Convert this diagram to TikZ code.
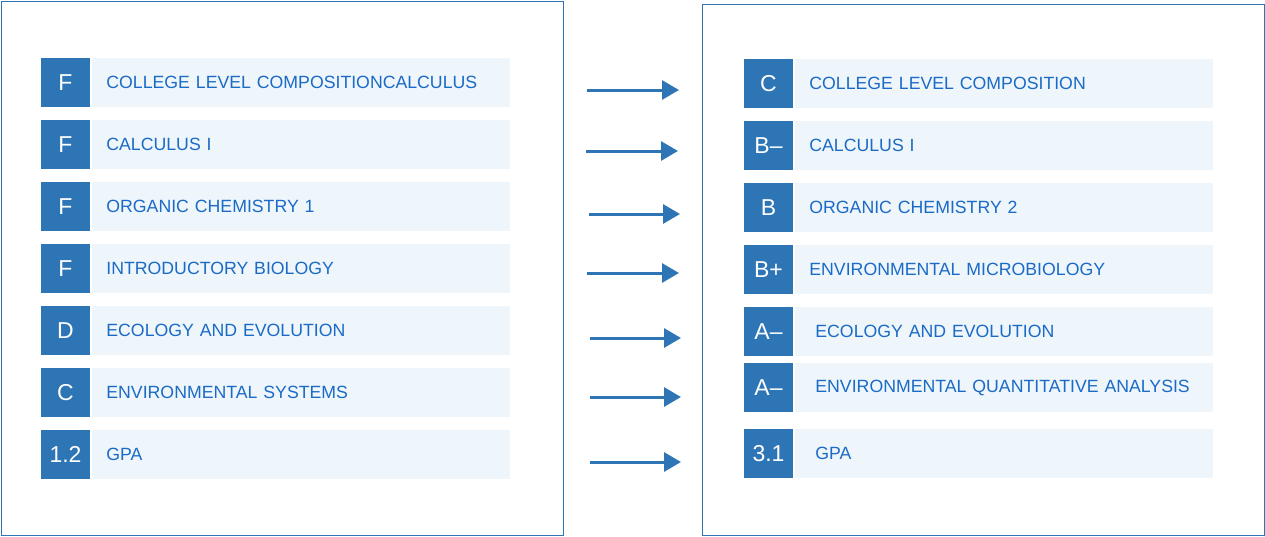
\documentclass[tikz,border=0pt]{standalone}
\usepackage{fontspec}
\setmainfont{Liberation Sans}
\usetikzlibrary{arrows.meta,positioning}
\definecolor{gradeblue}{HTML}{2E75B6}
\definecolor{barblue}{HTML}{EEF6FB}
\definecolor{courseblue}{HTML}{1B6AC6}
\tikzset{
	panel/.style={draw=gradeblue, line width=1pt},
	grade/.style={fill=gradeblue, text=white, minimum width=49pt, minimum height=49pt, inner sep=0pt, font=\fontsize{23}{23}\selectfont},
	course/.style={fill=barblue, text=courseblue, minimum height=49pt, minimum width=418pt, inner ysep=0pt, inner xsep=14pt, text width=390pt, align=left, font=\fontsize{17.7}{20}\selectfont},
	indent/.style={inner xsep=20pt, text width=378pt},
	gain/.style={draw=gradeblue, line width=3pt, -{Triangle[length=17pt,width=19pt]}}
}

\begin{document}
\begin{tikzpicture}[x=1pt, y=-1pt]
			%%%%% START %%%%%
			\useasboundingbox (0, 0) rectangle (1265, 536);
			
			\draw[panel] (1, 1) rectangle (563, 535);
			\draw[panel] (702, 4) rectangle (1264, 535);
			
			% before
			\node[grade] (gl1) at (65.5, 82.5) {F};
			\node[course, right=2pt of gl1] (cl1) {COLLEGE LEVEL COMPOSITIONCALCULUS};
			\node[grade] (gl2) at (65.5, 144.5) {F};
			\node[course, right=2pt of gl2] (cl2) {CALCULUS I};
			\node[grade] (gl3) at (65.5, 206.5) {F};
			\node[course, right=2pt of gl3] (cl3) {ORGANIC CHEMISTRY 1};
			\node[grade] (gl4) at (65.5, 268.5) {F};
			\node[course, right=2pt of gl4] (cl4) {INTRODUCTORY BIOLOGY};
			\node[grade] (gl5) at (65.5, 330.5) {D};
			\node[course, right=2pt of gl5] (cl5) {ECOLOGY AND EVOLUTION};
			\node[grade] (gl6) at (65.5, 392.5) {C};
			\node[course, right=2pt of gl6] (cl6) {ENVIRONMENTAL SYSTEMS};
			\node[grade] (gl7) at (65.5, 454.5) {1.2};
			\node[course, right=2pt of gl7] (cl7) {GPA};
			
			% after
			\node[grade] (gr1) at (768.5, 83.5) {C};
			\node[course, right=2pt of gr1] (cr1) {COLLEGE LEVEL COMPOSITION};
			\node[grade] (gr2) at (768.5, 145.5) {B--};
			\node[course, right=2pt of gr2] (cr2) {CALCULUS I};
			\node[grade] (gr3) at (768.5, 207.5) {B};
			\node[course, right=2pt of gr3] (cr3) {ORGANIC CHEMISTRY 2};
			\node[grade] (gr4) at (768.5, 269.5) {B+};
			\node[course, right=2pt of gr4] (cr4) {ENVIRONMENTAL MICROBIOLOGY};
			\node[grade] (gr5) at (768.5, 331.5) {A--};
			\node[course, indent, right=2pt of gr5] (cr5) {ECOLOGY AND EVOLUTION};
			\node[grade] (gr6) at (768.5, 387.5) {A--};
			\node[course, indent, right=2pt of gr6] (cr6) {ENVIRONMENTAL QUANTITATIVE ANALYSIS};
			\node[grade] (gr7) at (768.5, 453.5) {3.1};
			\node[course, indent, right=2pt of gr7] (cr7) {GPA};
			
			% arrows
			\coordinate (a1) at (587, 90);
			\coordinate (b1) at (679, 90);
			\coordinate (a2) at (586, 151);
			\coordinate (b2) at (678, 151);
			\coordinate (a3) at (589, 214);
			\coordinate (b3) at (680, 214);
			\coordinate (a4) at (587, 273);
			\coordinate (b4) at (679, 273);
			\coordinate (a5) at (590, 338);
			\coordinate (b5) at (681, 338);
			\coordinate (a6) at (590, 397);
			\coordinate (b6) at (681, 397);
			\coordinate (a7) at (590, 462);
			\coordinate (b7) at (681, 462);
			\draw[gain] (a1) -- (b1);
			\draw[gain] (a2) -- (b2);
			\draw[gain] (a3) -- (b3);
			\draw[gain] (a4) -- (b4);
			\draw[gain] (a5) -- (b5);
			\draw[gain] (a6) -- (b6);
			\draw[gain] (a7) -- (b7);
			
			%%%%% END %%%%%
		\end{tikzpicture}
\end{document}
